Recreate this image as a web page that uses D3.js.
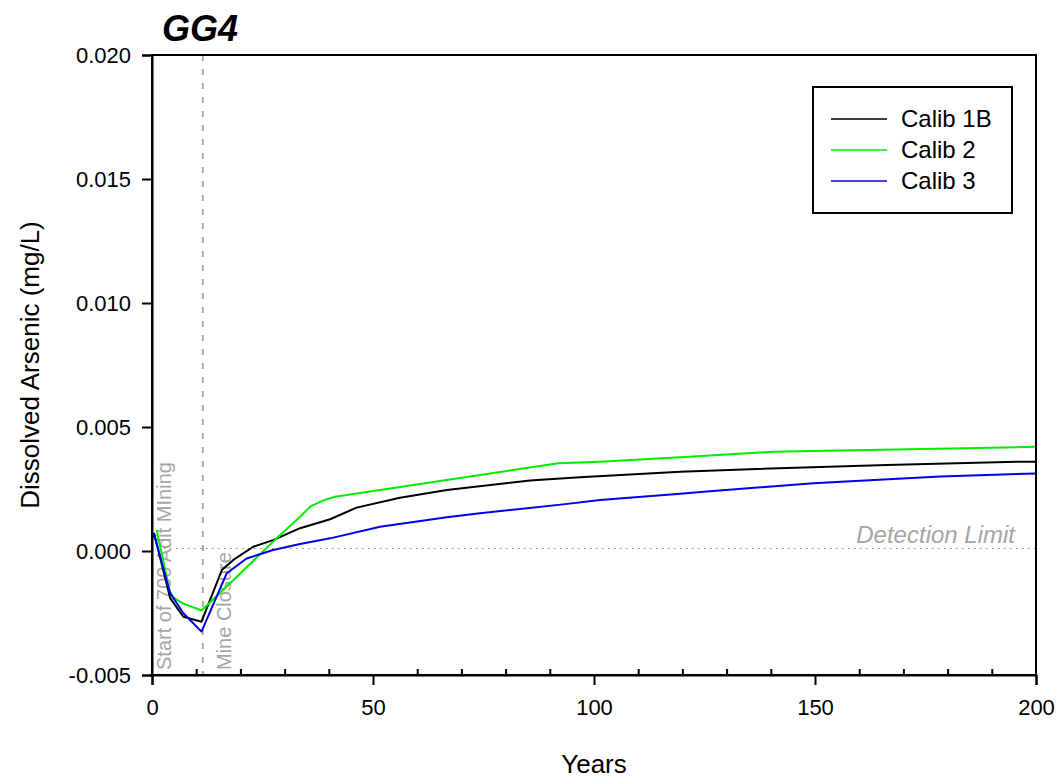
<!DOCTYPE html>
<html>
<head>
	<meta charset="utf-8">
	<title>GG4 dissolved arsenic</title>
	<script src="https://d3js.org/d3.v7.min.js"></script>
	<style>
		html, body {
			margin: 0px;
			background: #fff;
		}
		text { font-family: Arial, "Liberation Sans", sans-serif; }
	</style>
</head>
<body>
<div id="chart"></div>
<script type="text/javascript">

	var seriesNames = ["Calib 1B", "Calib 2", "Calib 3"];
	var seriesColors = ["#000000", "#00ee00", "#0000ee"];

	var calib1BYears = [0, 0.5, 4.1, 7.1, 11.2, 15.8, 18.4, 22.9, 27.4, 33.5, 40.3, 46.3, 56.1, 66.7, 85.5, 96.8, 119.5, 135.3, 166.2, 195.6, 200];
	var calib1BValues = [0.0005, 0.0007, -0.0019, -0.00265, -0.00285, -0.00077, -0.00036, 0.00017, 0.00044, 0.00092, 0.00128, 0.00175, 0.00215, 0.00246, 0.00284, 0.00297, 0.0032, 0.0033, 0.00347, 0.0036, 0.0036];

	var calib2Years = [1.05, 4, 4.8, 7.1, 11.2, 16.1, 28.2, 33.5, 35.9, 39.1, 41.4, 66.7, 91.9, 101.4, 119.5, 140.6, 200];
	var calib2Values = [0.00085, -0.0016, -0.00187, -0.00212, -0.0024, -0.00157, 0.00051, 0.00138, 0.00181, 0.00206, 0.00219, 0.00286, 0.00354, 0.0036, 0.00378, 0.004, 0.0042];

	var calib3Years = [0, 0.45, 4.1, 7.1, 11.2, 16.9, 21.4, 27.4, 33.5, 40.3, 51.6, 66.7, 74.2, 93, 101.4, 119.5, 125.5, 149.6, 178.3, 200];
	var calib3Values = [0.00058, 0.00069, -0.0017, -0.00251, -0.00325, -0.0009, -0.0003, 0.00004, 0.00028, 0.00051, 0.00098, 0.00136, 0.00152, 0.00188, 0.00206, 0.00231, 0.0024, 0.00273, 0.003, 0.00313];

	var xTicks = [0, 50, 100, 150, 200];
	var xMinorTicks = d3.range(0, 201, 10);
	var yTicks = [-0.005, 0, 0.005, 0.010, 0.015, 0.020];

	var detectionLimit = 0.0001;
	var mineClosureYear = 11.5;
	var startMiningYear = 0;

	var width = 1064, height = 781;
	var margin = {left: 152, right: 28, top: 55, bottom: 106};

	var svg = d3.select("#chart").append("svg")
		.attr("width", width)
		.attr("height", height);

	var x = d3.scaleLinear().domain([0, 200]).range([margin.left, width - margin.right]);
	var y = d3.scaleLinear().domain([-0.005, 0.020]).range([height - margin.bottom, margin.top]);

	var series = [
		{name: seriesNames[0], color: seriesColors[0], years: calib1BYears, values: calib1BValues},
		{name: seriesNames[1], color: seriesColors[1], years: calib2Years, values: calib2Values},
		{name: seriesNames[2], color: seriesColors[2], years: calib3Years, values: calib3Values}
	];

	// reference lines
	svg.append("line")
		.attr("x1", x(0)).attr("x2", x(200))
		.attr("y1", y(detectionLimit)).attr("y2", y(detectionLimit))
		.style("stroke", "#888").style("stroke-width", 1.2)
		.style("stroke-dasharray", "1.5,4.5");

	svg.append("line")
		.attr("x1", x(mineClosureYear)).attr("x2", x(mineClosureYear))
		.attr("y1", y(0.020)).attr("y2", y(-0.005))
		.style("stroke", "#a8a8a8").style("stroke-width", 2)
		.style("stroke-dasharray", "6,8");

	svg.append("text")
		.attr("transform", "translate(" + (x(startMiningYear) + 19) + "," + (y(-0.005) - 5) + ") rotate(-90)")
		.style("font-size", "20px").style("fill", "#a6a6a6")
		.text("Start of 700 Adit MIning");

	svg.append("text")
		.attr("transform", "translate(" + (x(mineClosureYear) + 28) + "," + (y(-0.005) - 5) + ") rotate(-90)")
		.style("font-size", "20px").style("fill", "#a6a6a6")
		.text("Mine Closure");

	svg.append("text")
		.attr("x", x(200) - 21).attr("y", y(detectionLimit) - 6)
		.attr("text-anchor", "end")
		.style("font-size", "24px").style("font-style", "italic").style("fill", "#a6a6a6")
		.text("Detection Limit");

	// data lines
	var line = d3.line()
		.x(function(d){ return x(d[0]) })
		.y(function(d){ return y(d[1]) });

	svg.selectAll("path.series").data(series).enter()
		.append("path")
		.attr("class", "series")
		.attr("d", function(s){
			return line(s.years.map(function(yr, i){ return [yr, s.values[i]] }))
		})
		.style("fill", "none")
		.style("stroke", function(s){ return s.color })
		.style("stroke-width", 2)
		.style("stroke-linejoin", "round");

	// frame
	svg.append("rect")
		.attr("x", x(0)).attr("y", y(0.020))
		.attr("width", x(200) - x(0)).attr("height", y(-0.005) - y(0.020))
		.style("fill", "none").style("stroke", "#000").style("stroke-width", 2);

	// axes
	svg.append("g")
		.attr("transform", "translate(0," + y(-0.005) + ")")
		.call(d3.axisBottom(x).tickValues(xTicks).tickSize(10).tickPadding(14).tickFormat(d3.format("d")));

	svg.append("g")
		.attr("transform", "translate(0," + y(-0.005) + ")")
		.call(d3.axisTop(x).tickValues(xMinorTicks.filter(function(d){ return xTicks.indexOf(d) < 0 })).tickSize(6).tickFormat(""))
		.call(function(g){ g.select(".domain").remove() });

	var fmt = d3.format(".3f");
	svg.append("g")
		.attr("transform", "translate(" + x(0) + ",0)")
		.call(d3.axisLeft(y).tickValues(yTicks).tickSize(10).tickPadding(11)
			.tickFormat(function(d){ return fmt(d).replace("\u2212", "-") }));

	svg.selectAll(".tick line").style("stroke-width", 2);
	svg.selectAll(".domain").style("stroke-width", 2);
	svg.selectAll(".tick text").style("font-size", "22px").style("font-family", "Arial, 'Liberation Sans', sans-serif").style("fill", "#000");

	// axis titles
	svg.append("text")
		.attr("x", (x(0) + x(200)) / 2).attr("y", 773)
		.attr("text-anchor", "middle")
		.style("font-size", "26px")
		.text("Years");

	svg.append("text")
		.attr("transform", "translate(39," + ((y(0.020) + y(-0.005)) / 2) + ") rotate(-90)")
		.attr("text-anchor", "middle")
		.style("font-size", "26px")
		.text("Dissolved Arsenic (mg/L)");

	svg.append("text")
		.attr("x", 162).attr("y", 41)
		.style("font-size", "36px").style("font-weight", "bold").style("font-style", "italic")
		.text("GG4");

	// legend
	var legend = svg.append("g");
	legend.append("rect")
		.attr("x", 813).attr("y", 87)
		.attr("width", 199).attr("height", 126)
		.style("fill", "#fff").style("stroke", "#000").style("stroke-width", 2);

	var items = legend.selectAll("g.item").data(series).enter()
		.append("g").attr("class", "item")
		.attr("transform", function(d, i){ return "translate(0," + (119 + i * 31) + ")" });

	items.append("line")
		.attr("x1", 831).attr("x2", 887)
		.style("stroke", function(d){ return d.color })
		.style("stroke-width", 1.6);

	items.append("text")
		.attr("x", 901).attr("y", 8)
		.style("font-size", "24px")
		.text(function(d){ return d.name });

</script>
</body>
</html>
